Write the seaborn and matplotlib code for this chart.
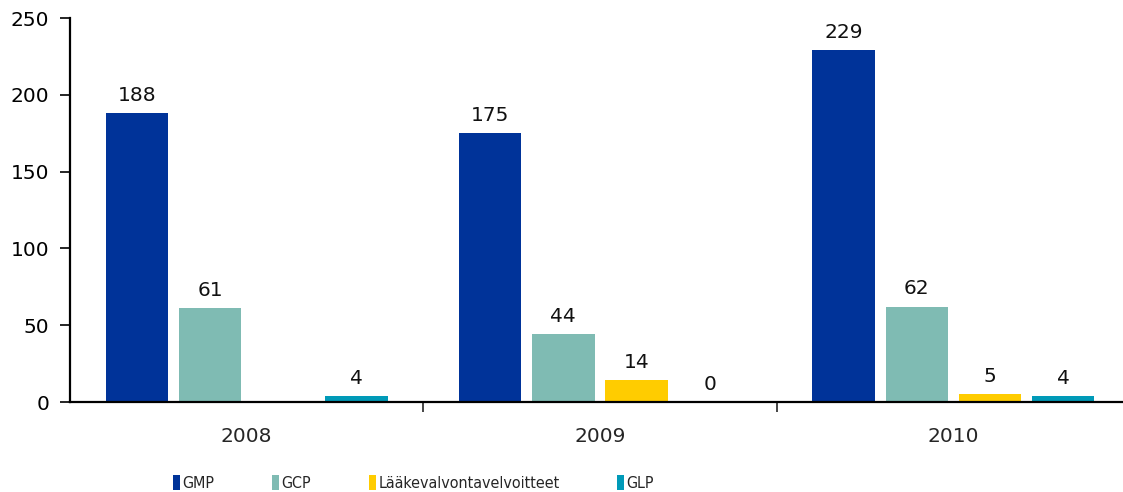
import matplotlib
matplotlib.use("Agg")
import matplotlib.pyplot as plt
import numpy as np
import pandas as pd
import seaborn as sns

years = ["2008", "2009", "2010"]
series = ["GMP", "GCP", "Lääkevalvontavelvoitteet", "GLP"]
gmp = [188, 175, 229]
gcp = [61, 44, 62]
laake = [np.nan, 14, 5]
glp = [4, 0, 4]
colors = ["#003399", "#7FBBB3", "#FFCC00", "#009AB8"]

rows = []
for name, vals in zip(series, [gmp, gcp, laake, glp]):
    for y, v in zip(years, vals):
        rows.append({"year": y, "series": name, "value": v})
df = pd.DataFrame(rows)

sns.set_style("ticks")
plt.rcParams["font.family"] = ["DejaVu Sans"]

fig = plt.figure(figsize=(11.23, 4.92), dpi=100)
ax = fig.add_axes([70 / 1123, 1 - 402 / 492, 1060 / 1123, 384 / 492])

sns.barplot(data=df, x="year", y="value", hue="series", hue_order=series,
            order=years, palette=colors, errorbar=None, width=0.83, gap=0.15,
            saturation=1, ax=ax, linewidth=0)

for cont in ax.containers:
    ax.bar_label(cont, fmt="%g", padding=6, fontsize=14.5, color="#111111")

handles, labels = ax.get_legend_handles_labels()
if ax.get_legend() is not None:
    ax.get_legend().remove()

ax.set_ylim(0, 250)
ax.set_xlim(-0.5, 2.5)
ax.set_yticks([0, 50, 100, 150, 200, 250])
ax.tick_params(axis="y", labelsize=14.5, length=7, width=1.2, direction="out",
               colors="black", pad=8)
ax.set_xticks([0, 1, 2])
ax.set_xticklabels(years)
ax.tick_params(axis="x", which="major", length=0, labelsize=14.5, pad=18)
ax.set_xticks([0.5, 1.5], minor=True)
ax.tick_params(axis="x", which="minor", length=7, width=1.2, direction="out")
ax.set_xlabel("")
ax.set_ylabel("")
sns.despine(ax=ax, top=True, right=True)
for s in ["left", "bottom"]:
    ax.spines[s].set_linewidth(1.6)
    ax.spines[s].set_color("black")

fig.legend(handles, labels, loc="center left",
           bbox_to_anchor=(165 / 1123, 1 - 483 / 492), ncol=4, frameon=False,
           handlelength=0.45, handleheight=1.1, handletextpad=0.15,
           columnspacing=3.6, borderpad=0,
           prop={"family": "DejaVu Sans", "stretch": "condensed", "size": 11.5})

fig.savefig("out.png", dpi=100)
